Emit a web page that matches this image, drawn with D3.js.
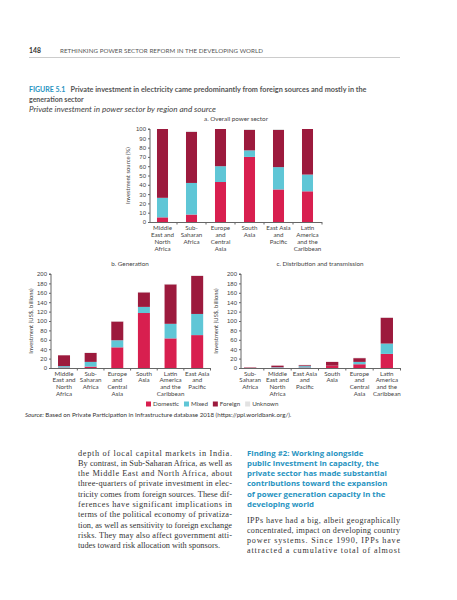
<!doctype html>
<html lang="en">
<head>
<meta charset="utf-8" />
<title>Private investment in power sector by region and source</title>
<script src="https://cdn.jsdelivr.net/npm/d3@7"></script>
<style>
	body { margin: 0; background: #fff; }
	svg { display: block; }
	.sans { font-family: Lato, "Open Sans", sans-serif; }
	.wide { font-family: "Open Sans", Lato, sans-serif; }
	.serif { font-family: "Liberation Serif", "DejaVu Serif", serif; }
</style>
</head>
<body>
<div id="page"></div>
<script>
// Panel a: overall power sector, share of investment (%)
const overallRegions = ["Middle East and North Africa", "Sub-Saharan Africa", "Europe and Central Asia", "South Asia", "East Asia and Pacific", "Latin America and the Caribbean"];
const overallDomestic = [5, 8, 43, 70, 35, 33];
const overallMixed = [21, 34, 17, 7, 24, 18];
const overallForeign = [74, 55, 40, 22, 40, 49];
const overallUnknown = [0, 1, 0, 1, 1, 0];

// Panel b: generation, US$ billions
const genRegions = ["Middle East and North Africa", "Sub-Saharan Africa", "Europe and Central Asia", "South Asia", "Latin America and the Caribbean", "East Asia and Pacific"];
const genDomestic = [1, 3, 44, 117, 63, 70];
const genMixed = [3, 10, 15, 13, 31, 45];
const genForeign = [23, 19, 40, 31, 84, 81];
const genUnknown = [0, 1, 1, 1, 1, 1];

// Panel c: distribution and transmission, US$ billions
const distRegions = ["Sub-Saharan Africa", "Middle East and North Africa", "East Asia and Pacific", "South Asia", "Europe and Central Asia", "Latin America and the Caribbean"];
const distDomestic = [0, 1, 1, 5, 8, 30];
const distMixed = [0, 1, 3, 0, 5, 22];
const distForeign = [1, 3, 2, 8, 8, 55];
const distUnknown = [0, 0, 1, 0, 1, 1];

const percentTicks = [0, 10, 20, 30, 40, 50, 60, 70, 80, 90, 100];
const billionTicks = [0, 20, 40, 60, 80, 100, 120, 140, 160, 180, 200];

const sourceKeys = ["domestic", "mixed", "foreign", "unknown"];
const sourceLabels = ["Domestic", "Mixed", "Foreign", "Unknown"];

// wrapped labels under the bars
const regionLines = {
	"Middle East and North Africa": ["Middle", "East and", "North", "Africa"],
	"Sub-Saharan Africa": ["Sub-", "Saharan", "Africa"],
	"Europe and Central Asia": ["Europe", "and", "Central", "Asia"],
	"South Asia": ["South", "Asia"],
	"East Asia and Pacific": ["East Asia", "and", "Pacific"],
	"Latin America and the Caribbean": ["Latin", "America", "and the", "Caribbean"]
};

const leftColumn = [
	"depth of local capital markets in India.",
	"By contrast, in Sub-Saharan Africa, as well as",
	"the Middle East and North Africa, about",
	"three-quarters of private investment in elec-",
	"tricity comes from foreign sources. These dif-",
	"ferences have significant implications in",
	"terms of the political economy of privatiza-",
	"tion, as well as sensitivity to foreign exchange",
	"risks. They may also affect government atti-",
	"tudes toward risk allocation with sponsors."
];
const findingHeading = [
	"Finding #2: Working alongside",
	"public investment in capacity, the",
	"private sector has made substantial",
	"contributions toward the expansion",
	"of power generation capacity in the",
	"developing world"
];
const rightColumn = [
	"IPPs have had a big, albeit geographically",
	"concentrated, impact on developing country",
	"power systems. Since 1990, IPPs have",
	"attracted a cumulative total of almost"
];

const W = 457, H = 600;
const color = d3.scaleOrdinal(sourceKeys, ["#d81f4f", "#5fc6d6", "#9c1a3d", "#e2e2e2"]);
const TEAL = "#2793bf";
const AXIS = "#666";
const LABEL = "#444";

const svg = d3.select("#page").append("svg").attr("width", W).attr("height", H).attr("viewBox", [0, 0, W, H]);

// page header
svg.append("text").attr("class", "sans").attr("x", 29).attr("y", 53).attr("font-size", 6.8).attr("font-weight", 700).attr("fill", "#333").text("148");
svg.append("text").attr("class", "sans").attr("x", 60).attr("y", 53).attr("font-size", 6.2).attr("fill", "#555")
	.attr("textLength", 203).attr("lengthAdjust", "spacing").text("RETHINKING POWER SECTOR REFORM IN THE DEVELOPING WORLD");
svg.append("line").attr("x1", 29).attr("x2", 400).attr("y1", 57.5).attr("y2", 57.5).attr("stroke", "#ccc").attr("stroke-width", 1);

// figure heading
svg.append("text").attr("class", "sans").attr("x", 29).attr("y", 91.5).attr("font-size", 7).attr("font-weight", 700).attr("fill", TEAL).text("FIGURE 5.1");
svg.append("text").attr("class", "sans").attr("x", 70.5).attr("y", 91.5).attr("font-size", 7).attr("font-weight", 700).attr("fill", "#555")
	.attr("textLength", 296).attr("lengthAdjust", "spacingAndGlyphs")
	.text("Private investment in electricity came predominantly from foreign sources and mostly in the");
svg.append("text").attr("class", "sans").attr("x", 29).attr("y", 101.5).attr("font-size", 7).attr("font-weight", 700).attr("fill", "#555").text("generation sector");
svg.append("text").attr("class", "sans").attr("x", 29).attr("y", 111.5).attr("font-size", 7.2).attr("font-style", "italic").attr("fill", "#444")
	.attr("textLength", 187).attr("lengthAdjust", "spacingAndGlyphs")
	.text("Private investment in power sector by region and source");

function tableOf(regions, d, m, f, u) {
	return regions.map((r, i) => ({ region: r, domestic: d[i], mixed: m[i], foreign: f[i], unknown: u[i] }));
}

function drawPanel(opt) {
	const data = tableOf(opt.regions, opt.domestic, opt.mixed, opt.foreign, opt.unknown);
	const x = d3.scaleBand().domain(opt.regions).range(opt.xRange).paddingInner(opt.pad).paddingOuter(opt.pad / 2);
	const y = d3.scaleLinear().domain([0, opt.max]).range(opt.yRange);
	const g = svg.append("g").attr("class", "sans");

	g.append("text").attr("x", opt.titleX).attr("y", opt.yRange[1] - 8).attr("text-anchor", "middle")
		.attr("font-size", 6.3).attr("fill", LABEL).text(opt.title);

	// y axis
	const ya = g.append("g").attr("transform", `translate(${opt.axisX},0)`)
		.call(d3.axisLeft(y).tickValues(opt.ticks).tickSize(2).tickPadding(2).tickFormat(d3.format("d")));
	ya.select(".domain").attr("stroke", AXIS).attr("d", `M-2,${opt.yRange[1]}H0V${opt.yRange[0]}`);
	ya.selectAll(".tick line").attr("stroke", AXIS);
	ya.selectAll(".tick text").attr("font-size", 6).attr("fill", LABEL).attr("font-family", null);

	g.append("text").attr("transform", `translate(${opt.yLabelX},${(opt.yRange[0] + opt.yRange[1]) / 2}) rotate(-90)`)
		.attr("text-anchor", "middle").attr("font-size", 5.9).attr("fill", LABEL).text(opt.yLabel);

	// stacked bars
	const series = d3.stack().keys(sourceKeys)(data);
	g.append("g").selectAll("g").data(series).join("g").attr("fill", (s) => color(s.key))
		.selectAll("rect").data((s) => s).join("rect")
		.attr("x", (d) => x(d.data.region))
		.attr("width", x.bandwidth())
		.attr("y", (d) => y(d[1]))
		.attr("height", (d) => Math.max(0, y(d[0]) - y(d[1])));

	// x axis with ticks between categories
	const x0 = opt.axisX, x1 = opt.xRange[1];
	g.append("line").attr("x1", x0).attr("x2", x1).attr("y1", opt.yRange[0] + 0.5).attr("y2", opt.yRange[0] + 0.5).attr("stroke", AXIS);
	const bounds = opt.regions.map((r) => x(r) + x.bandwidth() + (x.step() - x.bandwidth()) / 2);
	g.append("g").selectAll("line").data(bounds).join("line")
		.attr("x1", (d) => d).attr("x2", (d) => d)
		.attr("y1", opt.yRange[0]).attr("y2", opt.yRange[0] + 2.5).attr("stroke", AXIS);

	const labels = g.append("g").selectAll("text").data(opt.regions).join("text")
		.attr("text-anchor", "middle").attr("font-size", 6.2).attr("fill", LABEL)
		.attr("x", (r) => x(r) + x.bandwidth() / 2).attr("y", opt.yRange[0] + 7.5);
	labels.selectAll("tspan").data((r) => regionLines[r]).join("tspan")
		.attr("x", function () { return this.parentNode.getAttribute("x"); })
		.attr("dy", (d, i) => (i === 0 ? 0 : opt.lineGap))
		.text((d) => d);
}

drawPanel({
	title: "a. Overall power sector", titleX: 236,
	regions: overallRegions, domestic: overallDomestic, mixed: overallMixed, foreign: overallForeign, unknown: overallUnknown,
	max: 100, ticks: percentTicks, yLabel: "Investment source (%)", yLabelX: 130,
	axisX: 150, xRange: [148, 322], yRange: [222, 129], pad: 0.62, lineGap: 7
});
drawPanel({
	title: "b. Generation", titleX: 130,
	regions: genRegions, domestic: genDomestic, mixed: genMixed, foreign: genForeign, unknown: genUnknown,
	max: 200, ticks: billionTicks, yLabel: "Investment (US$, billions)", yLabelX: 33,
	axisX: 51, xRange: [50.7, 210.5], yRange: [368, 274], pad: 0.55, lineGap: 6.7
});
drawPanel({
	title: "c. Distribution and transmission", titleX: 320,
	regions: distRegions, domestic: distDomestic, mixed: distMixed, foreign: distForeign, unknown: distUnknown,
	max: 200, ticks: billionTicks, yLabel: "Investment (US$, billions)", yLabelX: 218,
	axisX: 241, xRange: [236.5, 400.5], yRange: [368, 274], pad: 0.55, lineGap: 6.7
});

// legend, laid out from measured label widths
const legend = svg.append("g").attr("class", "sans");
let lx = 146;
sourceKeys.forEach((key, i) => {
	legend.append("rect").attr("x", lx).attr("y", 401.5).attr("width", 5).attr("height", 5).attr("fill", color(key));
	const t = legend.append("text").attr("x", lx + 7).attr("y", 406.3).attr("font-size", 6.2).attr("fill", LABEL).text(sourceLabels[i]);
	lx += 7 + t.node().getComputedTextLength() + 5;
});

// source
const src = svg.append("text").attr("class", "sans").attr("x", 25).attr("y", 417).attr("font-size", 6.2).attr("fill", "#333");
src.append("tspan").attr("font-style", "italic").text("Source: ");
src.append("tspan").text("Based on Private Participation in Infrastructure database 2018 (https://ppi.worldbank.org/).");

// body text
const LINE = 10.3;
svg.append("g").attr("class", "serif").selectAll("text").data(leftColumn).join("text")
	.attr("x", 78).attr("y", (d, i) => 455.5 + i * LINE).attr("font-size", 8.3).attr("fill", "#333")
	.attr("textLength", (d, i) => (i === leftColumn.length - 1 ? null : 154)).attr("lengthAdjust", "spacing")
	.text((d) => d);
svg.append("g").attr("class", "wide").selectAll("text").data(findingHeading).join("text")
	.attr("x", 247).attr("y", (d, i) => 455.5 + i * LINE).attr("font-size", 7.8).attr("font-weight", 700).attr("fill", TEAL)
	.text((d) => d);
svg.append("g").attr("class", "serif").selectAll("text").data(rightColumn).join("text")
	.attr("x", 247).attr("y", (d, i) => 522.5 + i * LINE).attr("font-size", 8.1).attr("fill", "#333")
	.attr("textLength", 153).attr("lengthAdjust", "spacing")
	.text((d) => d);
</script>
</body>
</html>
